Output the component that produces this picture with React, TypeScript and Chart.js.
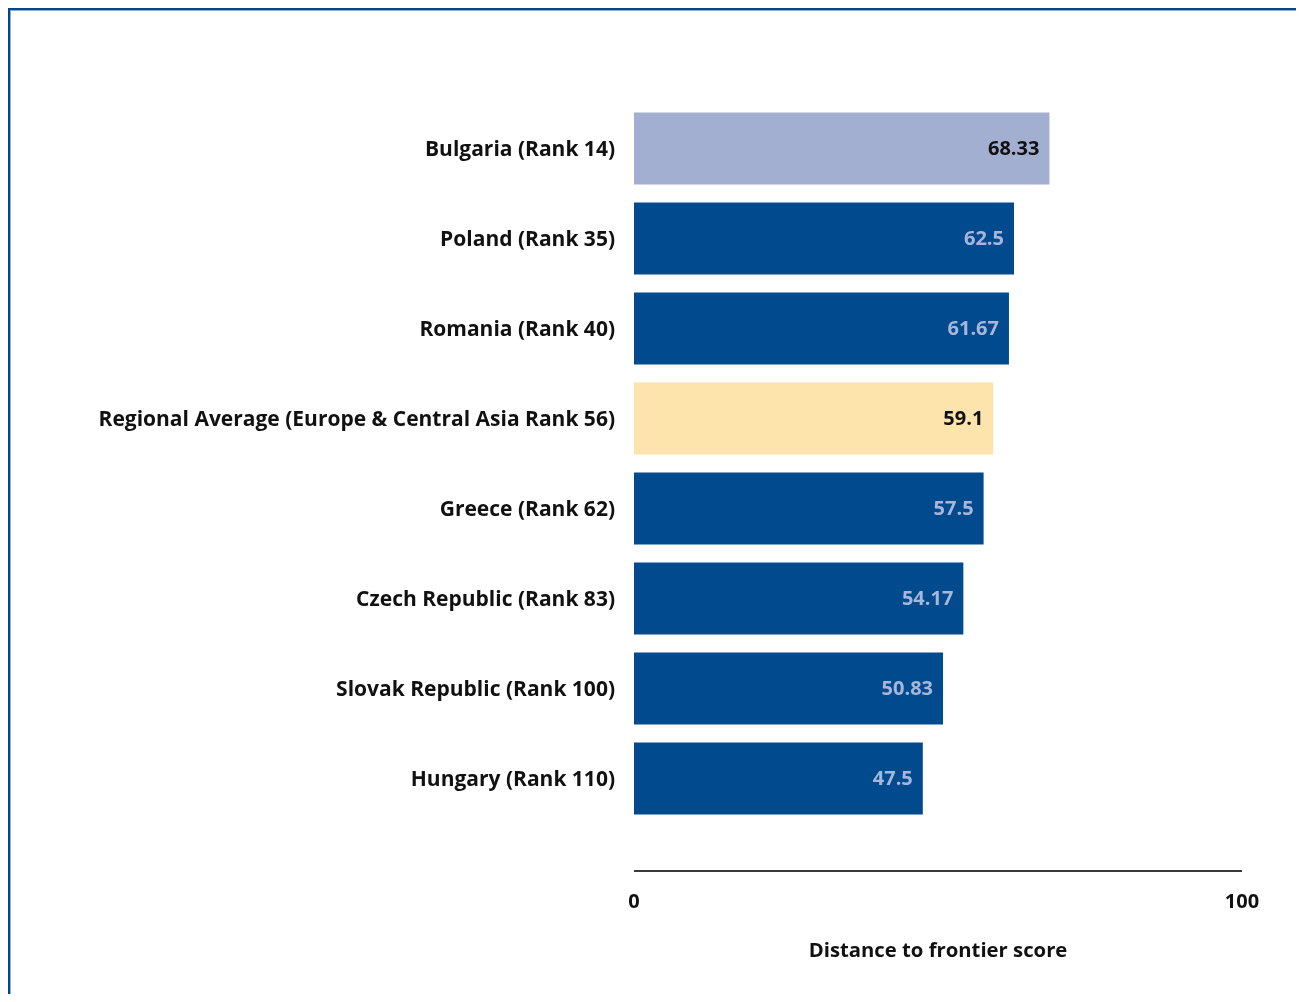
import React, { useEffect, useRef } from "react";
import { Chart, registerables } from "chart.js";

Chart.register(...registerables);

const categories: string[] = [
  "Bulgaria (Rank 14)",
  "Poland (Rank 35)",
  "Romania (Rank 40)",
  "Regional Average (Europe & Central Asia Rank 56)",
  "Greece (Rank 62)",
  "Czech Republic (Rank 83)",
  "Slovak Republic (Rank 100)",
  "Hungary (Rank 110)",
];
const scores: number[] = [68.33, 62.5, 61.67, 59.1, 57.5, 54.17, 50.83, 47.5];
const valueLabels: string[] = ["68.33", "62.5", "61.67", "59.1", "57.5", "54.17", "50.83", "47.5"];
const barColors: string[] = ["#a3afd1", "#004a8d", "#004a8d", "#fde3ac", "#004a8d", "#004a8d", "#004a8d", "#004a8d"];
const valueColors: string[] = ["#111111", "#a8b6dc", "#a8b6dc", "#111111", "#a8b6dc", "#a8b6dc", "#a8b6dc", "#a8b6dc"];
const xTicks: number[] = [0, 100];
const xTitle = "Distance to frontier score";

const FONT = "'Open Sans', sans-serif";

const valuePlugin = {
  id: "valueLabels",
  afterDatasetsDraw(chart: any) {
    const ctx = chart.ctx;
    const meta = chart.getDatasetMeta(0);
    ctx.save();
    ctx.font = `bold 20px ${FONT}`;
    ctx.textAlign = "right";
    ctx.textBaseline = "middle";
    meta.data.forEach((bar: any, i: number) => {
      ctx.fillStyle = valueColors[i];
      ctx.fillText(valueLabels[i], bar.x - 10, bar.y + 1);
    });
    ctx.restore();
  },
};

const axisLinePlugin = {
  id: "axisLine",
  afterDraw(chart: any) {
    const ctx = chart.ctx;
    const x = chart.scales.x;
    const y = chart.chartArea.bottom + 47.5;
    ctx.save();
    ctx.strokeStyle = "#3a3a3a";
    ctx.lineWidth = 2;
    ctx.beginPath();
    ctx.moveTo(x.getPixelForValue(xTicks[0]), y);
    ctx.lineTo(x.getPixelForValue(xTicks[xTicks.length - 1]), y);
    ctx.stroke();
    ctx.restore();
  },
};

export default function App() {
  const ref = useRef<HTMLCanvasElement | null>(null);
  useEffect(() => {
    if (!ref.current) return;
    const chart = new Chart(ref.current, {
      type: "bar",
      data: {
        labels: categories,
        datasets: [
          {
            data: scores,
            backgroundColor: barColors,
            borderWidth: 0,
            categoryPercentage: 1,
            barPercentage: 0.8,
          },
        ],
      },
      options: {
        indexAxis: "y",
        animation: false,
        responsive: false,
        devicePixelRatio: 1,
        layout: { padding: { top: 92.5, right: 62, bottom: 0, left: 0 } },
        plugins: { legend: { display: false }, tooltip: { enabled: false } },
        scales: {
          y: {
            grid: { display: false, drawTicks: false },
            border: { display: false },
            ticks: {
              color: "#111111",
              padding: 19,
              labelOffset: 1.5,
              font: { family: FONT, size: 21, weight: "bold" },
            },
            afterFit: (s: any) => {
              s.width = 623;
            },
          },
          x: {
            min: 0,
            max: 100,
            grid: { display: false, drawTicks: false },
            border: { display: false },
            afterBuildTicks: (s: any) => {
              s.ticks = xTicks.map((v) => ({ value: v }));
            },
            ticks: {
              color: "#111111",
              padding: 67,
              maxRotation: 0,
              font: { family: FONT, size: 20, weight: "bold" },
            },
            title: {
              display: true,
              text: xTitle,
              color: "#111111",
              font: { family: FONT, size: 20.3, weight: "bold" },
              padding: { top: 0, bottom: 39 },
            },
            afterFit: (s: any) => {
              s.height = 178.5;
              s.paddingLeft = 0;
              s.paddingRight = 0;
            },
          },
        },
      },
      plugins: [valuePlugin, axisLinePlugin],
    });
    return () => chart.destroy();
  }, []);

  return (
    <div
      style={{
        width: 1296,
        height: 994,
        marginBottom: -8,
        borderTop: "2px solid #00468c",
        borderLeft: "2px solid #00468c",
        boxSizing: "border-box",
        overflow: "hidden",
      }}
    >
      <div
        style={{
          borderTop: "1px solid #8fb0d8",
          borderLeft: "1px solid #8fb0d8",
          width: 1293,
          height: 991,
          boxSizing: "border-box",
        }}
      >
        <canvas ref={ref} width={1293} height={991} style={{ display: "block" }} />
      </div>
    </div>
  );
}
